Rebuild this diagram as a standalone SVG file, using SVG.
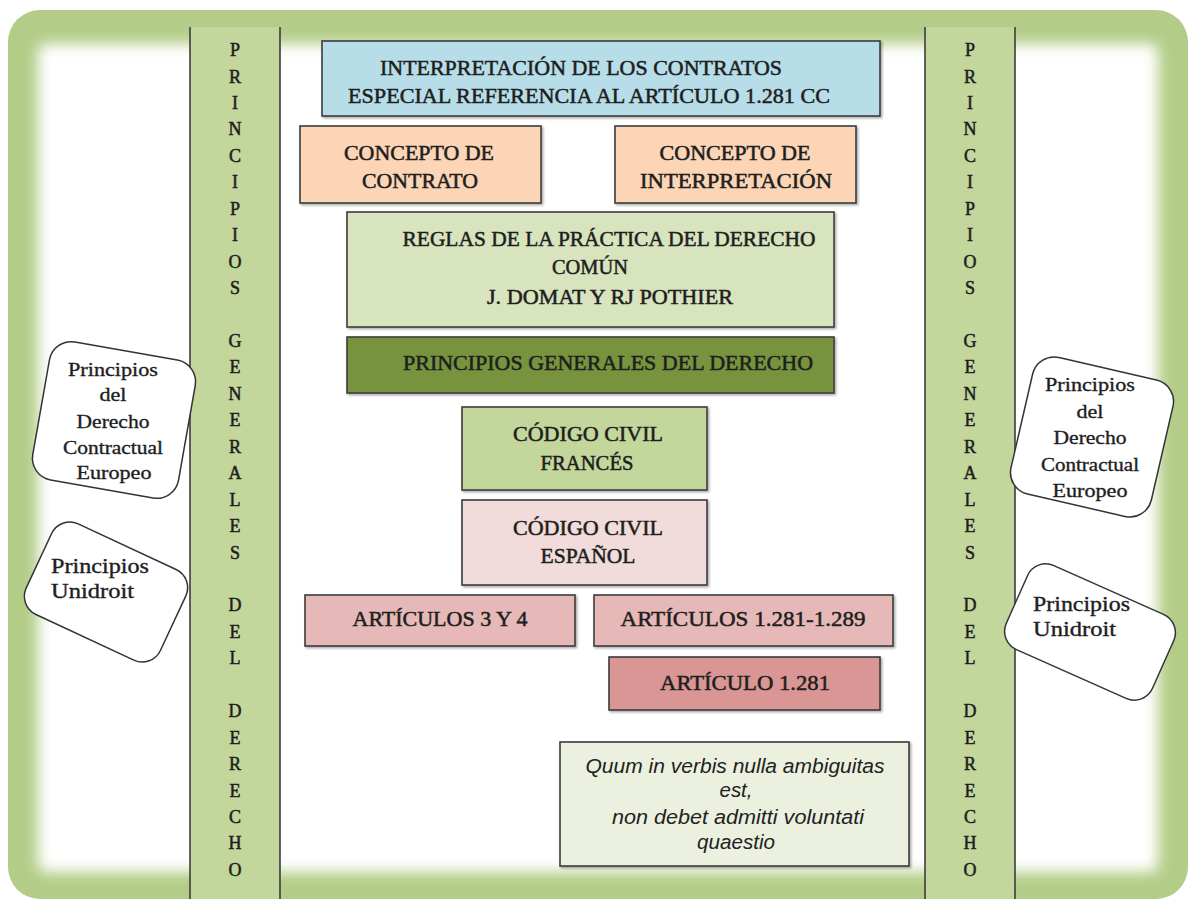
<svg xmlns="http://www.w3.org/2000/svg" width="1188" height="899" viewBox="0 0 1188 899">
<defs>
<filter id="soft" x="-5%" y="-5%" width="110%" height="110%"><feGaussianBlur stdDeviation="7"/></filter>
<filter id="shadow" x="-5%" y="-10%" width="115%" height="130%"><feDropShadow dx="1.5" dy="1.5" stdDeviation="1" flood-color="#000" flood-opacity="0.35"/></filter>
</defs>
<style>
.box{stroke:#3c3c3c;stroke-width:1.6;filter:url(#shadow)}
.t{font-family:"Liberation Serif","DejaVu Serif",serif;font-size:21px;fill:#1e1e1e;stroke:#1e1e1e;stroke-width:0.5;text-anchor:middle}
.s{font-family:"Liberation Serif","DejaVu Serif",serif;font-size:19px;fill:#1e1e1e;stroke:#1e1e1e;stroke-width:0.35;text-anchor:middle}
.sl{font-family:"Liberation Serif","DejaVu Serif",serif;font-size:20px;fill:#1e1e1e;stroke:#1e1e1e;stroke-width:0.35}
.v{font-family:"Liberation Serif","DejaVu Serif",serif;font-size:18px;fill:#1e1e1e;stroke:#1e1e1e;stroke-width:0.5;text-anchor:middle}
.q{font-family:"Liberation Sans",Arial,sans-serif;font-style:italic;font-size:20px;fill:#222;text-anchor:middle}
.strip{fill:#c3d69b}
.edge{stroke:#3c3c3c;stroke-width:1.6}
.rb{fill:#fff;stroke:#333;stroke-width:1.5}
</style>
<!-- frame -->
<g id="frame">
<rect x="8" y="10" width="1180" height="889" rx="32" fill="#b3cd88"/>
<rect x="38" y="44" width="1120" height="828" rx="8" fill="#fff" filter="url(#soft)"/>
</g>
<!-- side strips -->
<g id="strip-left">
<rect class="strip" x="190" y="27" width="90" height="872"/>
<line class="edge" x1="190" y1="27" x2="190" y2="899"/>
<line class="edge" x1="280" y1="27" x2="280" y2="899"/>
<text class="v">
<tspan x="235" y="56">P</tspan><tspan x="235" y="82.5">R</tspan><tspan x="235" y="109">I</tspan><tspan x="235" y="135.4">N</tspan><tspan x="235" y="161.8">C</tspan><tspan x="235" y="188.3">I</tspan><tspan x="235" y="214.7">P</tspan><tspan x="235" y="241.2">I</tspan><tspan x="235" y="267.6">O</tspan><tspan x="235" y="294">S</tspan><tspan x="235" y="347">G</tspan><tspan x="235" y="373.4">E</tspan><tspan x="235" y="399.8">N</tspan><tspan x="235" y="426.3">E</tspan><tspan x="235" y="452.7">R</tspan><tspan x="235" y="479.2">A</tspan><tspan x="235" y="505.6">L</tspan><tspan x="235" y="532">E</tspan><tspan x="235" y="558.5">S</tspan><tspan x="235" y="611.4">D</tspan><tspan x="235" y="637.8">E</tspan><tspan x="235" y="664.3">L</tspan><tspan x="235" y="717.2">D</tspan><tspan x="235" y="743.6">E</tspan><tspan x="235" y="770">R</tspan><tspan x="235" y="796.5">E</tspan><tspan x="235" y="823">C</tspan><tspan x="235" y="849.4">H</tspan><tspan x="235" y="875.8">O</tspan>
</text>
</g>
<g id="strip-right">
<rect class="strip" x="925" y="27" width="90" height="872"/>
<line class="edge" x1="925" y1="27" x2="925" y2="899"/>
<line class="edge" x1="1015" y1="27" x2="1015" y2="899"/>
<text class="v">
<tspan x="970" y="56">P</tspan><tspan x="970" y="82.5">R</tspan><tspan x="970" y="109">I</tspan><tspan x="970" y="135.4">N</tspan><tspan x="970" y="161.8">C</tspan><tspan x="970" y="188.3">I</tspan><tspan x="970" y="214.7">P</tspan><tspan x="970" y="241.2">I</tspan><tspan x="970" y="267.6">O</tspan><tspan x="970" y="294">S</tspan><tspan x="970" y="347">G</tspan><tspan x="970" y="373.4">E</tspan><tspan x="970" y="399.8">N</tspan><tspan x="970" y="426.3">E</tspan><tspan x="970" y="452.7">R</tspan><tspan x="970" y="479.2">A</tspan><tspan x="970" y="505.6">L</tspan><tspan x="970" y="532">E</tspan><tspan x="970" y="558.5">S</tspan><tspan x="970" y="611.4">D</tspan><tspan x="970" y="637.8">E</tspan><tspan x="970" y="664.3">L</tspan><tspan x="970" y="717.2">D</tspan><tspan x="970" y="743.6">E</tspan><tspan x="970" y="770">R</tspan><tspan x="970" y="796.5">E</tspan><tspan x="970" y="823">C</tspan><tspan x="970" y="849.4">H</tspan><tspan x="970" y="875.8">O</tspan>
</text>
</g>
<!-- central boxes -->
<g id="titulo">
<rect class="box" x="322" y="41" width="558" height="75" fill="#b7dde8"/>
<text class="t" x="581" y="75" textLength="402" lengthAdjust="spacingAndGlyphs">INTERPRETACIÓN DE LOS CONTRATOS</text>
<text class="t" x="589" y="103" textLength="482" lengthAdjust="spacingAndGlyphs">ESPECIAL REFERENCIA AL ARTÍCULO 1.281 CC</text>
</g>
<g id="concepto-contrato">
<rect class="box" x="300" y="126" width="241" height="77" fill="#fbd5b5"/>
<text class="t" x="419" y="160" textLength="150" lengthAdjust="spacingAndGlyphs">CONCEPTO DE</text>
<text class="t" x="420" y="188" textLength="116" lengthAdjust="spacingAndGlyphs">CONTRATO</text>
</g>
<g id="concepto-interpretacion">
<rect class="box" x="615" y="126" width="241" height="77" fill="#fbd5b5"/>
<text class="t" x="735" y="160" textLength="151" lengthAdjust="spacingAndGlyphs">CONCEPTO DE</text>
<text class="t" x="736" y="188" textLength="192" lengthAdjust="spacingAndGlyphs">INTERPRETACIÓN</text>
</g>
<g id="reglas">
<rect class="box" x="347" y="212" width="487" height="115" fill="#d7e4bd"/>
<text class="t" x="609" y="246" textLength="413" lengthAdjust="spacingAndGlyphs">REGLAS DE LA PRÁCTICA DEL DERECHO</text>
<text class="t" x="590" y="274" textLength="76" lengthAdjust="spacingAndGlyphs">COMÚN</text>
<text class="t" x="610" y="304" textLength="246" lengthAdjust="spacingAndGlyphs">J. DOMAT Y RJ POTHIER</text>
</g>
<g id="principios-generales">
<rect class="box" x="347" y="337" width="487" height="56" fill="#77933c"/>
<text class="t" x="608" y="370" textLength="410" lengthAdjust="spacingAndGlyphs">PRINCIPIOS GENERALES DEL DERECHO</text>
</g>
<g id="codigo-frances">
<rect class="box" x="462" y="407" width="245" height="83" fill="#c3d69b"/>
<text class="t" x="588" y="441" textLength="150" lengthAdjust="spacingAndGlyphs">CÓDIGO CIVIL</text>
<text class="t" x="587" y="470" textLength="93" lengthAdjust="spacingAndGlyphs">FRANCÉS</text>
</g>
<g id="codigo-espanol">
<rect class="box" x="462" y="500" width="245" height="85" fill="#f2dcdb"/>
<text class="t" x="588" y="535" textLength="150" lengthAdjust="spacingAndGlyphs">CÓDIGO CIVIL</text>
<text class="t" x="588" y="563" textLength="95" lengthAdjust="spacingAndGlyphs">ESPAÑOL</text>
</g>
<g id="articulos-3-4">
<rect class="box" x="305" y="595" width="270" height="51" fill="#e6b9b8"/>
<text class="t" x="440" y="626" textLength="175" lengthAdjust="spacingAndGlyphs">ARTÍCULOS 3 Y 4</text>
</g>
<g id="articulos-1281-1289">
<rect class="box" x="594" y="595" width="299" height="51" fill="#e6b9b8"/>
<text class="t" x="743" y="626" textLength="245" lengthAdjust="spacingAndGlyphs">ARTÍCULOS 1.281-1.289</text>
</g>
<g id="articulo-1281">
<rect class="box" x="609" y="657" width="271" height="53" fill="#d99694"/>
<text class="t" x="745" y="690" textLength="170" lengthAdjust="spacingAndGlyphs">ARTÍCULO 1.281</text>
</g>
<g id="quum">
<rect class="box" x="560" y="742" width="349" height="124" fill="#ebf1de"/>
<text class="q" x="735" y="773" textLength="299" lengthAdjust="spacingAndGlyphs">Quum in verbis nulla ambiguitas</text>
<text class="q" x="736" y="797" textLength="33" lengthAdjust="spacingAndGlyphs">est,</text>
<text class="q" x="738" y="824" textLength="252" lengthAdjust="spacingAndGlyphs">non debet admitti voluntati</text>
<text class="q" x="736" y="849" textLength="78" lengthAdjust="spacingAndGlyphs">quaestio</text>
</g>
<!-- tilted boxes -->
<g id="pdce-izq">
<rect class="rb" x="-74" y="-70" width="148" height="140" rx="22" transform="translate(114,420) rotate(10)"/>
<text class="s" x="113" y="376" textLength="90" lengthAdjust="spacingAndGlyphs">Principios</text>
<text class="s" x="113" y="401" textLength="27" lengthAdjust="spacingAndGlyphs">del</text>
<text class="s" x="113" y="428" textLength="73" lengthAdjust="spacingAndGlyphs">Derecho</text>
<text class="s" x="113" y="454" textLength="100" lengthAdjust="spacingAndGlyphs">Contractual</text>
<text class="s" x="114" y="479" textLength="75" lengthAdjust="spacingAndGlyphs">Europeo</text>
</g>
<g id="unidroit-izq">
<rect class="rb" x="-74" y="-50" width="148" height="100" rx="20" transform="translate(106,592) rotate(25)"/>
<text class="sl" x="51" y="573" textLength="98" lengthAdjust="spacingAndGlyphs">Principios</text>
<text class="sl" x="51" y="598" textLength="83" lengthAdjust="spacingAndGlyphs">Unidroit</text>
</g>
<g id="pdce-der">
<rect class="rb" x="-72" y="-70" width="144" height="140" rx="22" transform="translate(1092,437) rotate(13)"/>
<text class="s" x="1090" y="391" textLength="90" lengthAdjust="spacingAndGlyphs">Principios</text>
<text class="s" x="1090" y="418" textLength="27" lengthAdjust="spacingAndGlyphs">del</text>
<text class="s" x="1090" y="444" textLength="73" lengthAdjust="spacingAndGlyphs">Derecho</text>
<text class="s" x="1090" y="471" textLength="98" lengthAdjust="spacingAndGlyphs">Contractual</text>
<text class="s" x="1090" y="497" textLength="75" lengthAdjust="spacingAndGlyphs">Europeo</text>
</g>
<g id="unidroit-der">
<rect class="rb" x="-80" y="-46" width="160" height="92" rx="20" transform="translate(1090,632) rotate(24)"/>
<text class="sl" x="1033" y="611" textLength="97" lengthAdjust="spacingAndGlyphs">Principios</text>
<text class="sl" x="1033" y="636" textLength="83" lengthAdjust="spacingAndGlyphs">Unidroit</text>
</g>
<g id="connectors"></g>
</svg>
